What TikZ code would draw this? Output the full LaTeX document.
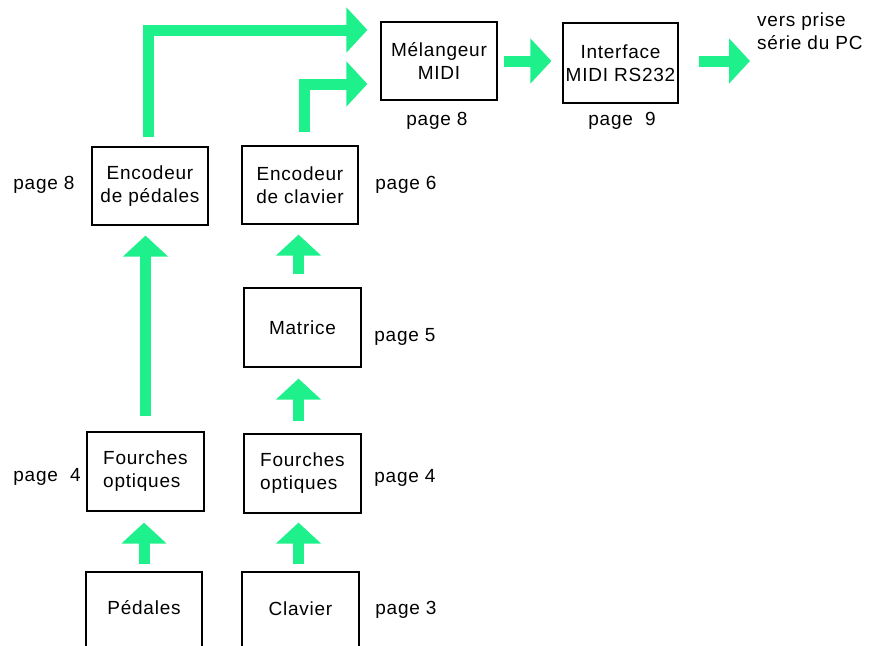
\documentclass[tikz,border=0pt]{standalone}
\usepackage{fontspec}
\setmainfont[LetterSpace=4]{Liberation Sans}
\usetikzlibrary{arrows.meta}
\definecolor{flow}{RGB}{30,240,140}
\begin{document}
\begin{tikzpicture}[x=1pt,y=-1pt,
  box/.style={draw=black,line width=1.2pt,minimum width=116pt,minimum height=78pt,inner sep=0pt,font=\fontsize{19}{23}\selectfont,align=center},
  lbl/.style={font=\fontsize{19}{23}\selectfont,inner sep=0pt},
  flowarrow/.style={draw=flow,line width=11pt,-{Triangle[width=44pt,length=21pt]}}]
\useasboundingbox (0,0) rectangle (872,645);
\clip (0,0) rectangle (872,645);
\fill[white] (0,0) rectangle (872,645);
% boxes
\node[box] (encP) at (150,186) {Encodeur\\de pédales};
\node[box] (encC) at (300,185) {Encodeur\\de clavier};
\node[box] (mel) at (439,61) {Mélangeur\\MIDI};
\node[box,minimum width=115pt,minimum height=80pt] (intf) at (620.5,63) {Interface\\MIDI RS232};
\node[box,minimum width=117pt,minimum height=79pt] (mat) at (302.5,327.5) {Matrice};
\node[box,minimum width=117pt,minimum height=79pt,align=left] (fouL) at (145.5,471.5) {Fourches\\optiques};
\node[box,minimum width=117pt,minimum height=79pt,align=left] (fouR) at (302.5,473.5) {Fourches\\optiques};
\node[box,minimum height=80pt] (ped) at (144,612) {};
\node[lbl] (pedT) at (144,608) {Pédales};
\node[box,minimum width=117pt,minimum height=80pt] (clav) at (300.5,612) {};
\node[lbl] (clavT) at (300.5,609) {Clavier};
% labels
\node[lbl] (p8a) at (44,185) {page 8};
\node[lbl] (p6) at (406,185) {page 6};
\node[lbl] (p5) at (405,337) {page 5};
\node[lbl] (p4a) at (47,477) {page\ \ 4};
\node[lbl] (p4b) at (405,478) {page 4};
\node[lbl] (p3) at (406,610) {page 3};
\node[lbl] (p8b) at (437,121) {page 8};
\node[lbl] (p9) at (622,121) {page\ \ 9};
\node[lbl,anchor=west,align=left] (pc) at (757,31) {vers prise\\série du PC};
\coordinate (out) at (750,61);
% arrows
\draw[flowarrow,shorten <=7pt,shorten >=11pt] (ped.north) -- (ped.north |- fouL.south);
\draw[flowarrow,shorten <=7pt,shorten >=9pt] ([xshift=-2pt]clav.north) -- ([xshift=-2pt]clav.north |- fouR.south);
\draw[flowarrow,shorten <=12pt,shorten >=11pt] ([xshift=-4pt]fouR.north) -- ([xshift=-4pt]fouR.north |- mat.south);
\draw[flowarrow,shorten <=13pt,shorten >=10pt] ([xshift=-4pt]mat.north) -- ([xshift=-4pt]mat.north |- encC.south);
\draw[flowarrow,shorten <=15pt,shorten >=10pt] (fouL.north) -- (fouL.north |- encP.south);
\draw[flowarrow,shorten <=9pt,shorten >=13pt] ([xshift=-2pt]encP.north) |- ([yshift=31pt]mel.west);
\draw[flowarrow,shorten <=13pt,shorten >=13pt] ([xshift=4pt]encC.north) |- ([yshift=-23pt]mel.west);
\draw[flowarrow,shorten <=6pt,shorten >=11pt] (mel.east) -- (mel.east -| intf.west);
\draw[flowarrow,shorten <=20pt] (intf.east |- out) -- (out);
\end{tikzpicture}
\end{document}
